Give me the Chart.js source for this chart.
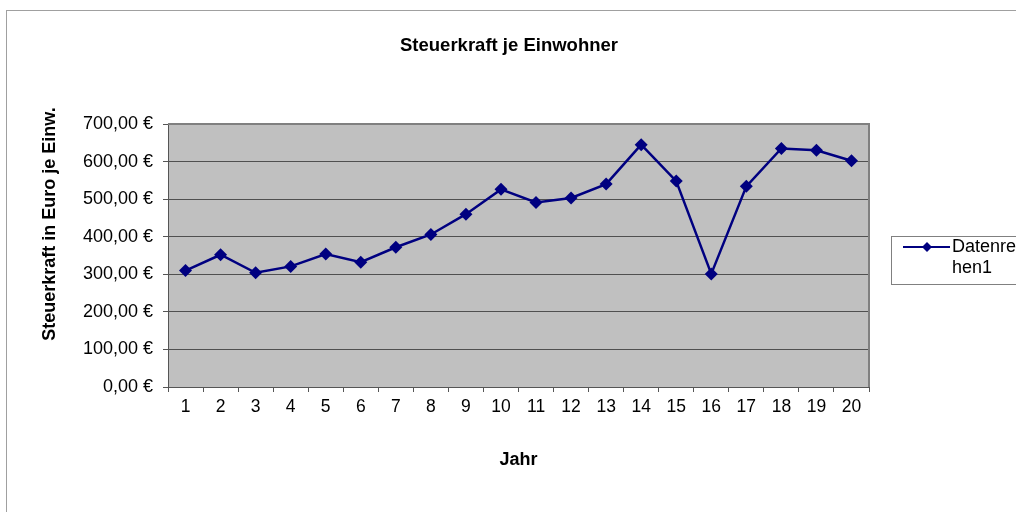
<!DOCTYPE html>
<html>
<head>
<meta charset="utf-8">
<script src="https://cdn.jsdelivr.net/npm/chart.js@4.4.1/dist/chart.umd.min.js"></script>
<style>
  html, body { margin: 0; padding: 0; background: #fff; }
  #wrap { width: 1016px; height: 512px; position: relative; }
</style>
</head>
<body>
<div id="wrap"><canvas id="chart" width="1016" height="512"></canvas></div>
<script>
var years = ['1','2','3','4','5','6','7','8','9','10','11','12','13','14','15','16','17','18','19','20'];
var steuerkraft = [310, 352, 304, 321, 354, 332, 372, 406, 460, 526, 491, 503, 540, 645, 548, 301, 534, 635, 630, 602];
var yTicks = [0, 100, 200, 300, 400, 500, 600, 700];
var seriesName = 'Datenreihen1';

var FONT = 'Arial, "Liberation Sans", sans-serif';
var NAVY = '#000080';

function euro(v) {
    return v.toFixed(2).replace('.', ',') + ' €';
}

// background, frame, titles and legend drawn around the chart
var decor = {
    id: 'decor',
    beforeDraw(chart) {
        var ctx = chart.ctx, a = chart.chartArea;
        ctx.save();
        ctx.fillStyle = '#fff';
        ctx.fillRect(0, 0, chart.width, chart.height);
        ctx.strokeStyle = '#a0a0a0';
        ctx.lineWidth = 1;
        ctx.strokeRect(6.5, 10.5, 1200, 800);
        ctx.fillStyle = '#c0c0c0';
        ctx.fillRect(a.left, a.top, a.right - a.left, a.bottom - a.top);
        ctx.restore();
    },
    afterDraw(chart) {
        var ctx = chart.ctx, a = chart.chartArea;
        ctx.save();
        // plot border
        ctx.strokeStyle = '#808080';
        ctx.lineWidth = 2;
        ctx.beginPath();
        ctx.moveTo(a.left, a.top);
        ctx.lineTo(a.right, a.top);
        ctx.lineTo(a.right, a.bottom);
        ctx.stroke();
        // titles
        ctx.fillStyle = '#000';
        ctx.textAlign = 'center';
        ctx.textBaseline = 'middle';
        ctx.font = 'bold 18.5px ' + FONT;
        ctx.fillText('Steuerkraft je Einwohner', 509, 46);
        ctx.font = 'bold 18px ' + FONT;
        ctx.fillText('Jahr', (a.left + a.right) / 2, 460);
        ctx.save();
        ctx.translate(50, 224);
        ctx.rotate(-Math.PI / 2);
        ctx.fillText('Steuerkraft in Euro je Einw.', 0, 0);
        ctx.restore();
        // legend
        ctx.strokeStyle = '#808080';
        ctx.lineWidth = 1;
        ctx.strokeRect(891.5, 236.5, 200, 48);
        ctx.strokeStyle = NAVY;
        ctx.lineWidth = 2;
        ctx.beginPath();
        ctx.moveTo(903, 247);
        ctx.lineTo(950, 247);
        ctx.stroke();
        ctx.fillStyle = NAVY;
        ctx.beginPath();
        ctx.moveTo(927, 242);
        ctx.lineTo(932, 247);
        ctx.lineTo(927, 252);
        ctx.lineTo(922, 247);
        ctx.closePath();
        ctx.fill();
        ctx.fillStyle = '#000';
        ctx.textAlign = 'left';
        ctx.font = '18px ' + FONT;
        ctx.fillText(seriesName.slice(0, 8), 952, 247);
        ctx.fillText(seriesName.slice(8), 952, 268);
        ctx.restore();
    }
};

new Chart(document.getElementById('chart'), {
    type: 'line',
    data: {
        labels: years,
        datasets: [{
            label: seriesName,
            data: steuerkraft,
            borderColor: NAVY,
            backgroundColor: NAVY,
            borderWidth: 2.5,
            pointStyle: 'rectRot',
            pointRadius: 6.5,
            pointBorderWidth: 0,
            tension: 0
        }]
    },
    options: {
        responsive: false,
        animation: false,
        events: [],
        layout: { padding: { top: 124, right: 147, left: 0, bottom: 0 } },
        plugins: { legend: { display: false }, title: { display: false }, tooltip: { enabled: false } },
        scales: {
            x: {
                offset: true,
                grid: { offset: true, drawOnChartArea: false, color: '#555', tickLength: 5, tickColor: '#555' },
                border: { color: '#555', width: 1 },
                ticks: { color: '#000', font: { family: FONT, size: 17.5 }, padding: 5, maxRotation: 0, autoSkip: false },
                afterFit(s) { s.height = 125; }
            },
            y: {
                min: 0,
                max: 700,
                afterBuildTicks(s) { s.ticks = yTicks.map(v => ({ value: v })); },
                grid: { color: '#505050', lineWidth: 1, tickLength: 5, tickColor: '#555' },
                border: { color: '#555', width: 1 },
                ticks: { color: '#000', font: { family: FONT, size: 18 }, padding: 10, callback: v => euro(v) },
                afterFit(s) { s.width = 168; }
            }
        }
    },
    plugins: [decor]
});
</script>
</body>
</html>
